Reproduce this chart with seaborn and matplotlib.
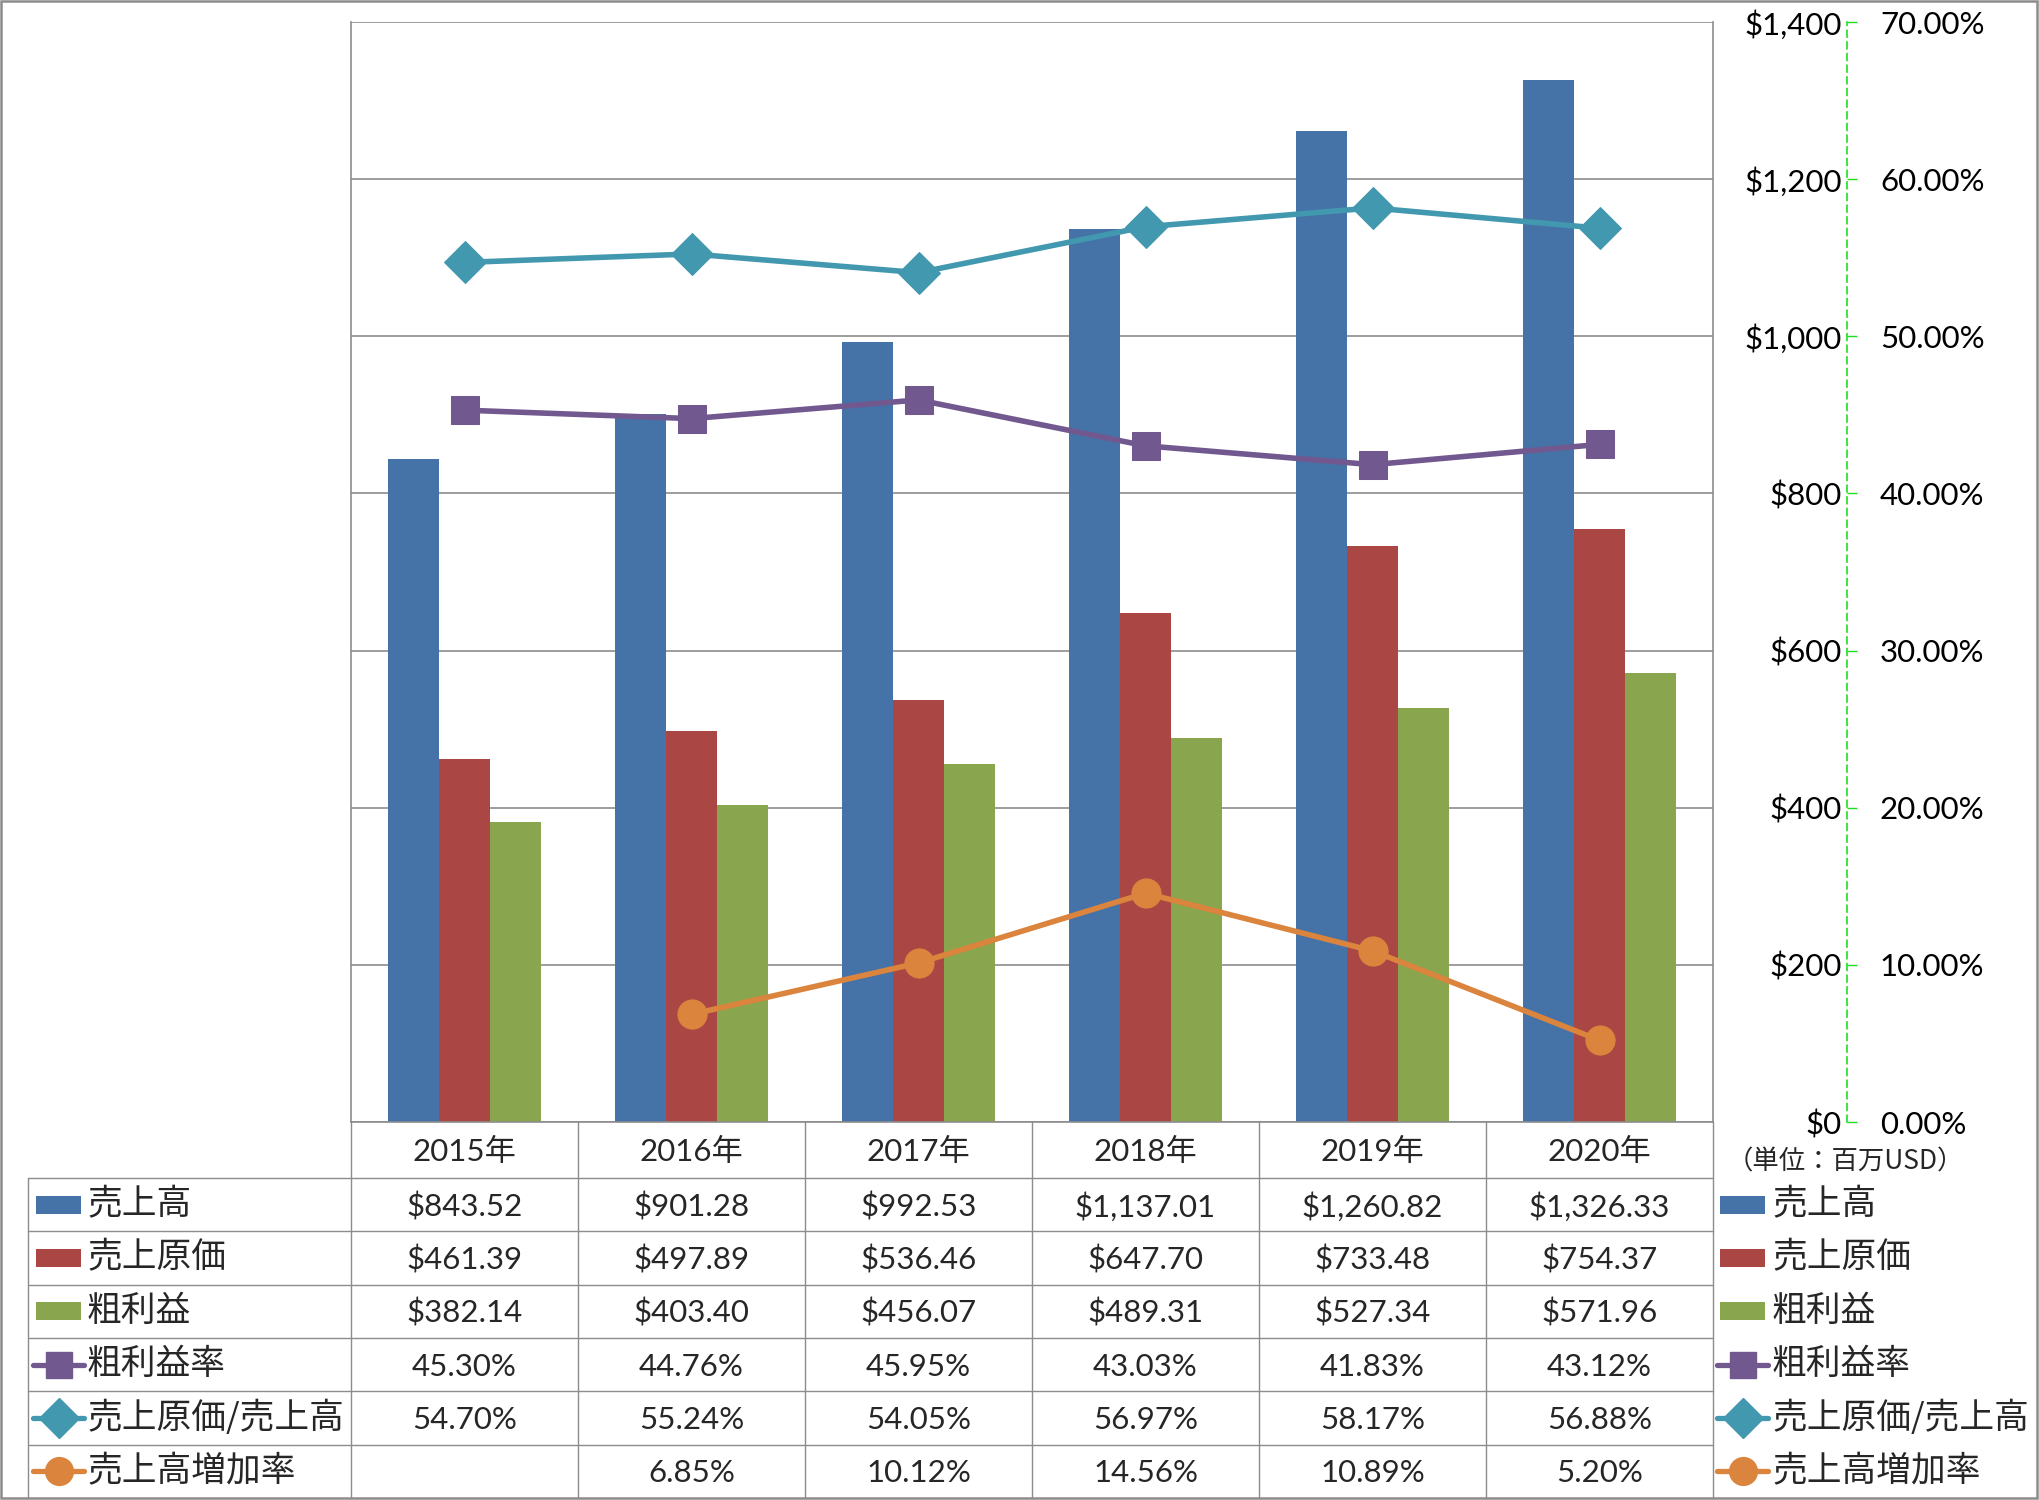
import numpy as np
import pandas as pd
import matplotlib
matplotlib.use('Agg')
import matplotlib.pyplot as plt
from matplotlib.lines import Line2D
from matplotlib.patches import Rectangle
from matplotlib.ticker import FuncFormatter
import seaborn as sns

years = ['2015年', '2016年', '2017年', '2018年', '2019年', '2020年']
sales = [843.52, 901.28, 992.53, 1137.01, 1260.82, 1326.33]
cost = [461.39, 497.89, 536.46, 647.70, 733.48, 754.37]
gross = [382.14, 403.40, 456.07, 489.31, 527.34, 571.96]
gross_margin = [45.30, 44.76, 45.95, 43.03, 41.83, 43.12]
cost_ratio = [54.70, 55.24, 54.05, 56.97, 58.17, 56.88]
growth = [np.nan, 6.85, 10.12, 14.56, 10.89, 5.20]

bar_names = ['売上高', '売上原価', '粗利益']
line_names = ['粗利益率', '売上原価/売上高', '売上高増加率']
bar_colors = ['#4572A7', '#AA4643', '#89A54E']
line_colors = ['#71588F', '#4198AF', '#DB843D']
line_markers = ['s', 'D', 'o']
line_msize = [20, 21, 21]

sns.set_theme(style='white')
plt.rcParams['font.family'] = ['Lato', 'Noto Sans CJK JP', 'DejaVu Sans']
CJK = ['Noto Sans CJK JP', 'DejaVu Sans']

# ---- layout in pixels ----
W, H = 2039, 1500
PX0, PX1 = 351, 1713      # plot area left / right
PY0, PY1 = 22, 1122       # plot area top / bottom
TAB_L = 28
HEAD_B = 1178
TAB_B = 1498
GRAY = '#8c8c8c'

fig = plt.figure(figsize=(W / 100, H / 100), dpi=100)
ax = fig.add_axes([PX0 / W, 1 - PY1 / H, (PX1 - PX0) / W, (PY1 - PY0) / H])

bars = pd.DataFrame({
    'year': years * 3,
    'series': np.repeat(bar_names, len(years)),
    'value': sales + cost + gross,
})
sns.barplot(data=bars, x='year', y='value', hue='series', hue_order=bar_names,
            palette=bar_colors, width=0.675, gap=0, saturation=1, linewidth=0,
            errorbar=None, legend=False, ax=ax)

ax.set_xlim(-0.5, len(years) - 0.5)
ax.set_ylim(0, 1400)
ax.set_yticks(np.arange(0, 1401, 200))
ax.yaxis.grid(True, color=GRAY, lw=1.2)
ax.set_axisbelow(True)
ax.set_xlabel('')
ax.set_ylabel('')
ax.tick_params(axis='x', length=0, labelbottom=False)
for s in ['left', 'right', 'bottom']:
    ax.spines[s].set_color(GRAY)
    ax.spines[s].set_linewidth(1.2)
ax.spines['top'].set_visible(False)

# secondary axis for the rates
ax2 = ax.twinx()
series = [gross_margin, cost_ratio, growth]
xs = np.arange(len(years))
for vals, col, mk, ms in zip(series, line_colors, line_markers, line_msize):
    sns.lineplot(x=xs, y=vals, ax=ax2, color=col, marker=mk, markersize=ms,
                 markeredgecolor=col, linewidth=4.0, sort=False, legend=False)
ax2.set_ylim(0, 70)
ax2.set_yticks(np.arange(0, 71, 10))
ax2.yaxis.set_major_formatter(FuncFormatter(lambda v, p: f'{v:.2f}%'))
ax2.set_ylabel('')
for s in ['left', 'top', 'bottom']:
    ax2.spines[s].set_visible(False)
ax2.spines['right'].set_position(('axes', (1847 - PX0) / (PX1 - PX0)))
ax2.spines['right'].set_color('#1ee01e')
ax2.spines['right'].set_linestyle((0, (4, 3)))
ax2.spines['right'].set_linewidth(1.2)
ax2.tick_params(axis='y', direction='out', length=7.2, width=1, color='#1ee01e',
                pad=16.5, labelsize=22.5, labelcolor='black')

# dollar labels sit right of the plot, right-aligned
ax.yaxis.tick_right()
ax.yaxis.set_major_formatter(FuncFormatter(lambda v, p: f'${v:,.0f}'))
ax.tick_params(axis='y', length=0, pad=92.9, labelsize=22.5, labelcolor='black')
plt.setp(ax.get_yticklabels(), ha='right')

# ---- data table + legend keys, drawn in pixel space ----
tb = fig.add_axes([0, 0, 1, 1])
tb.set_xlim(0, W)
tb.set_ylim(H, 0)
tb.axis('off')

ncol = len(years)
col_w = (PX1 - PX0) / ncol
row_h = (TAB_B - HEAD_B) / 6
col_x = [PX0 + (i + 0.5) * col_w for i in range(ncol)]
row_y = [HEAD_B + (k + 0.5) * row_h for k in range(6)]

lkw = dict(color=GRAY, lw=1.0)
for k in range(6):
    y = HEAD_B + k * row_h
    tb.plot([TAB_L, PX1], [y, y], **lkw)
tb.plot([TAB_L, TAB_L], [HEAD_B, TAB_B], **lkw)
for i in range(ncol + 1):
    x = PX0 + i * col_w
    tb.plot([x, x], [PY1, TAB_B], **lkw)

for x, yr in zip(col_x, years):
    tb.text(x, (PY1 + HEAD_B) / 2 + 2, yr, ha='center', va='center', fontsize=22.5)

rows = [
    [f'${v:,.2f}' for v in sales],
    [f'${v:,.2f}' for v in cost],
    [f'${v:,.2f}' for v in gross],
    [f'{v:.2f}%' for v in gross_margin],
    [f'{v:.2f}%' for v in cost_ratio],
    ['' if np.isnan(v) else f'{v:.2f}%' for v in growth],
]
for y, cells in zip(row_y, rows):
    for x, txt in zip(col_x, cells):
        tb.text(x, y + 2, txt, ha='center', va='center', fontsize=22.5)


def draw_key(x, y, k):
    if k < 3:
        tb.add_patch(Rectangle((x, y - 9), 45, 18, color=bar_colors[k], lw=0))
    else:
        j = k - 3
        tb.add_line(Line2D([x - 3, x + 48], [y, y], color=line_colors[j], lw=3.8,
                           solid_capstyle='round'))
        tb.plot([x + 22.5], [y], marker=line_markers[j], ms=line_msize[j] - 1,
                color=line_colors[j])


names = bar_names + line_names
for k, (y, nm) in enumerate(zip(row_y, names)):
    draw_key(36, y, k)
    tb.text(87, y, nm, ha='left', va='center', fontsize=25, family=CJK)
    draw_key(1720, y, k)
    tb.text(1772, y, nm, ha='left', va='center', fontsize=25, family=CJK)

tb.text(1845, 1162, '（単位：百万USD）', ha='center', va='center', fontsize=19, family=CJK)

tb.add_patch(Rectangle((1, 1), W - 3, TAB_B - 1, fill=False, ec=GRAY, lw=1.8))

fig.savefig('out.png', dpi=100)
